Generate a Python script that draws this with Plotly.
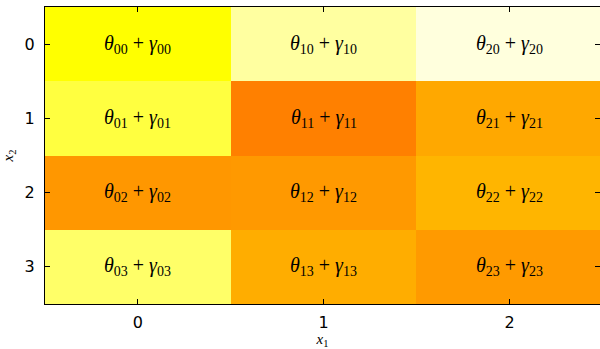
import plotly.graph_objects as go

# Grid coordinates
x1_vals = [0, 1, 2]
x2_vals = [0, 1, 2, 3]
x_tick_labels = ["0", "1", "2"]
y_tick_labels = ["0", "1", "2", "3"]

# Cell intensities on the "hot" scale, rows = x2, columns = x1
row0 = [0.746, 0.905, 0.966]
row1 = [0.810, 0.556, 0.616]
row2 = [0.590, 0.594, 0.635]
row3 = [0.850, 0.624, 0.595]
z = [row0, row1, row2, row3]

# matplotlib-style "hot" colormap
hot = [
    [0.0, "rgb(11,0,0)"],
    [0.365079, "rgb(255,0,0)"],
    [0.746032, "rgb(255,255,0)"],
    [1.0, "rgb(255,255,255)"],
]

fig = go.Figure()
fig.add_trace(go.Heatmap(
    x=x1_vals, y=x2_vals, z=z,
    colorscale=hot, zmin=0, zmax=1,
    showscale=False, hoverinfo="skip", xgap=0, ygap=0,
))

for j in x2_vals:
    for i in x1_vals:
        fig.add_annotation(
            x=i, y=j, xref="x", yref="y", showarrow=False,
            text=f"<i>θ</i><sub>{i}{j}</sub> + <i>γ</i><sub>{i}{j}</sub>",
            font=dict(family="Liberation Serif", size=20, color="black"),
        )

axis_common = dict(
    showline=True, linecolor="black", linewidth=1.2, mirror="ticks",
    ticks="inside", ticklen=5, tickwidth=1, tickcolor="black",
    showgrid=False, zeroline=False,
    tickfont=dict(family="DejaVu Sans", size=16, color="black"),
)

fig.update_xaxes(
    range=[-0.5, 2.487], tickvals=x1_vals, ticktext=x_tick_labels,
    ticklabelstandoff=4,
    title=dict(text="<i>x</i><sub>1</sub>", standoff=5,
               font=dict(family="Liberation Serif", size=15, color="black")),
    **axis_common,
)
fig.update_yaxes(
    range=[3.5, -0.5], tickvals=x2_vals, ticktext=y_tick_labels,
    ticklabelstandoff=6,
    title=dict(text="<i>x</i><sub>2</sub>", standoff=7,
               font=dict(family="Liberation Serif", size=15, color="black")),
    **axis_common,
)

fig.update_layout(
    width=600, height=349,
    margin=dict(l=45, r=0, t=7, b=45),
    paper_bgcolor="white", plot_bgcolor="white",
)

fig.write_html("out.html")
